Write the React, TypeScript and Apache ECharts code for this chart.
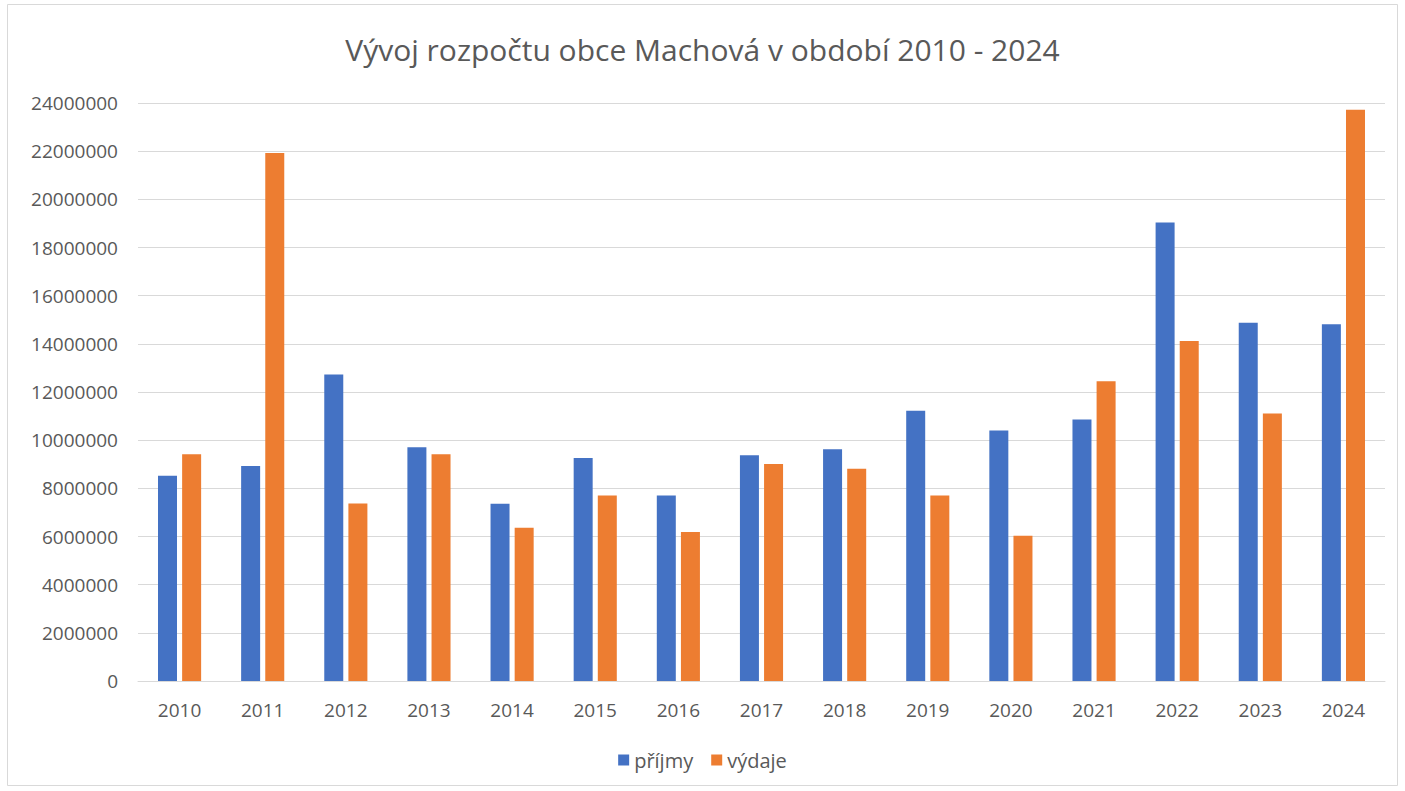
import React, { useEffect, useRef } from "react";
import * as echarts from "echarts";

const years = ["2010","2011","2012","2013","2014","2015","2016","2017","2018","2019","2020","2021","2022","2023","2024"];
const prijmy = [8520000, 8930000, 12730000, 9710000, 7360000, 9260000, 7700000, 9370000, 9620000, 11220000, 10400000, 10860000, 19040000, 14880000, 14810000];
const vydaje = [9420000, 21920000, 7370000, 9420000, 6360000, 7700000, 6190000, 9010000, 8810000, 7700000, 6030000, 12450000, 14120000, 11110000, 23720000];
const titleText = "Vývoj rozpočtu obce Machová v období 2010 - 2024";
const seriesNames = ["příjmy", "výdaje"];

const FONT = "'Open Sans', 'Liberation Sans', sans-serif";

export default function App() {
  const ref = useRef<HTMLDivElement>(null);
  useEffect(() => {
    if (!ref.current) return;
    const chart = echarts.init(ref.current, null, { renderer: "svg" });
    chart.setOption({
      animation: false,
      backgroundColor: "#ffffff",
      title: {
        text: titleText,
        left: "center",
        top: 29,
        textStyle: { fontFamily: FONT, fontSize: 30, fontWeight: "normal", color: "#595959" },
      },
      legend: {
        bottom: 16,
        left: "center",
        itemWidth: 11,
        itemHeight: 11,
        itemGap: 18,
        icon: "rect",
        textStyle: { fontFamily: FONT, fontSize: 20, color: "#595959" },
        data: seriesNames,
      },
      graphic: [
        {
          type: "rect",
          shape: { x: 7.5, y: 4.5, width: 1390, height: 781 },
          style: { fill: "none", stroke: "#d9d9d9", lineWidth: 1 },
          silent: true,
        },
      ],
      grid: { left: 138, right: 20, top: 103, bottom: 110 },
      xAxis: {
        type: "category",
        data: years,
        axisTick: { show: false },
        axisLine: { lineStyle: { color: "#d9d9d9", width: 1 } },
        axisLabel: { fontFamily: FONT, fontSize: 19, color: "#595959", margin: 19 },
      },
      yAxis: {
        type: "value",
        min: 0,
        max: 24000000,
        interval: 2000000,
        axisLine: { show: false },
        axisTick: { show: false },
        splitLine: { lineStyle: { color: "#d9d9d9", width: 1 } },
        axisLabel: {
          fontFamily: FONT,
          fontSize: 19,
          color: "#595959",
          margin: 20,
          formatter: (v: number) => String(v),
        },
      },
      series: [
        {
          name: seriesNames[0],
          type: "bar",
          data: prijmy,
          barWidth: 19,
          barGap: "27%",
          itemStyle: { color: "#4472c4" },
        },
        {
          name: seriesNames[1],
          type: "bar",
          data: vydaje,
          barWidth: 19,
          itemStyle: { color: "#ed7d31" },
        },
      ],
    });
    return () => chart.dispose();
  }, []);
  return (
    <div
      ref={ref}
      style={{ position: "fixed", left: 0, top: 0, width: 1405, height: 791 }}
    />
  );
}
